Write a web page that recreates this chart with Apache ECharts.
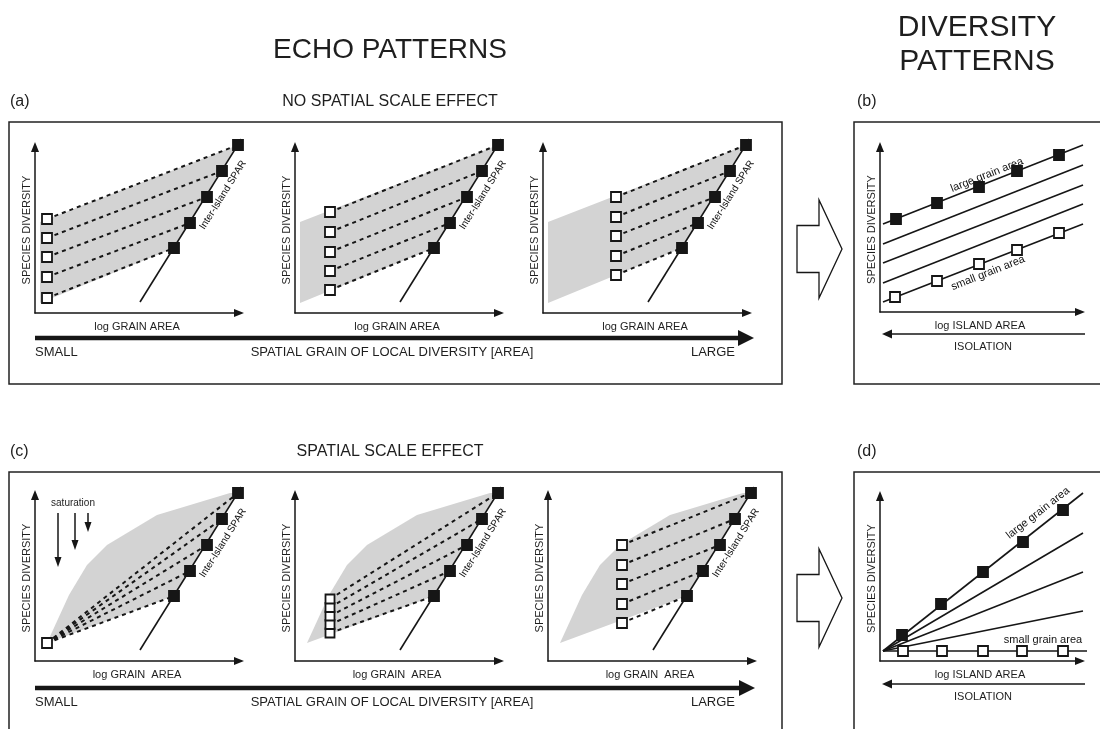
<!DOCTYPE html>
<html><head><meta charset="utf-8">
<script src="https://cdn.jsdelivr.net/npm/echarts@6/dist/echarts.min.js"></script>
<style>html,body{margin:0;padding:0;background:#fff}#c{width:1100px;height:729px}</style>
</head><body><div id="c"></div>
<script>
// ---------------- DATA (axis units) ----------------
// Inter-island SPAR, shared by all echo sub-charts
const sparX = [139, 155, 172, 187, 203];
const sparY = [65, 90, 116, 142, 168];
const sparLineX = [105, 209];
const sparLineY = [11, 178];

// (a) NO SPATIAL SCALE EFFECT – local (small-grain) points per sub-chart
const a1OpenX = [12, 12, 12, 12, 12];
const a1OpenY = [15, 36, 56, 75, 94];
const a2OpenX = [35, 35, 35, 35, 35];
const a2OpenY = [23, 42, 61, 81, 101];
const a3OpenX = [73, 73, 73, 73, 73];
const a3OpenY = [38, 57, 77, 96, 116];
const aFillX = [5, 139, 203, 5];
const aFillY = [10, 65, 168, 91];

// (c) SPATIAL SCALE EFFECT
const c1OpenX = [12, 12, 12, 12, 12];
const c1OpenY = [18, 18, 18, 18, 18];
const c2OpenX = [35, 35, 35, 35, 35];
const c2OpenY = [28, 36.5, 45, 53.5, 62];
const c3OpenX = [74, 74, 74, 74, 74];
const c3OpenY = [38, 57, 77, 96, 116];
const cFillX = [12, 34, 52, 72, 122, 195, 203, 139];
const cFillY = [18, 66, 96, 116, 146, 168, 168, 65];
const satX = [23, 40, 53];
const satTopY = [148, 148, 148];
const satEndY = [99, 116, 134];

// (b) diversity patterns, no scale effect
const bLineStartX = [3, 3, 3, 3, 3];
const bLineStartY = [88, 68, 49, 29, 10];
const bLineEndX = [203, 203, 203, 203, 203];
const bLineEndY = [167, 147, 127, 108, 88];
const bLargeX = [16, 57, 99, 137, 179];
const bLargeY = [93, 109, 125, 141, 157];
const bSmallX = [15, 57, 99, 137, 179];
const bSmallY = [15, 31, 48, 62, 79];

// (d) diversity patterns, scale effect
const dLineStartX = [3, 3, 3, 3, 3];
const dLineStartY = [10, 10, 10, 10, 10];
const dLineEndX = [203, 203, 203, 203, 207];
const dLineEndY = [168, 128, 89, 50, 10];
const dLargeX = [22, 61, 103, 143, 183];
const dLargeY = [26, 57, 89, 119, 151];
const dSmallX = [23, 62, 103, 142, 183];
const dSmallY = [10, 10, 10, 10, 10];

// ---------------- LAYOUT / STYLE ----------------
const FONT = '"Liberation Sans", Arial, Helvetica, sans-serif';
const INK = '#161616';
const TXT = '#1e1e1e';
const GRAY = '#d3d3d3';

const grids = [
  {left: 35,  top: 147, w: 204, h: 166, xName: 'log GRAIN AREA'},
  {left: 295, top: 147, w: 204, h: 166, xName: 'log GRAIN AREA'},
  {left: 543, top: 147, w: 204, h: 166, xName: 'log GRAIN AREA'},
  {left: 35,  top: 495, w: 204, h: 166, xName: 'log GRAIN  AREA'},
  {left: 295, top: 495, w: 204, h: 166, xName: 'log GRAIN  AREA'},
  {left: 548, top: 495, w: 204, h: 166, xName: 'log GRAIN  AREA'},
  {left: 880, top: 147, w: 200, h: 165, xName: 'log ISLAND AREA'},
  {left: 880, top: 496, w: 200, h: 165, xName: 'log ISLAND AREA'}
];

const axisLine = {show: true, onZero: false, symbol: ['none', 'triangle'], symbolSize: [8, 10],
  lineStyle: {color: INK, width: 1.5}};
const gridOpt = grids.map(g => ({left: g.left, top: g.top, width: g.w, height: g.h}));
const xAxes = grids.map((g, i) => ({gridIndex: i, type: 'value', min: 0, max: g.w,
  axisLine, axisTick: {show: false}, axisLabel: {show: false}, splitLine: {show: false},
  name: g.xName, nameLocation: 'middle', nameGap: 8,
  nameTextStyle: {fontSize: 11, color: TXT, fontFamily: FONT, verticalAlign: 'top'}}));
const yAxes = grids.map((g, i) => ({gridIndex: i, type: 'value', min: 0, max: g.h,
  axisLine, axisTick: {show: false}, axisLabel: {show: false}, splitLine: {show: false},
  name: 'SPECIES DIVERSITY', nameLocation: 'middle', nameGap: 3,
  nameTextStyle: {fontSize: 11, color: TXT, fontFamily: FONT}}));

const series = [];
const base = gi => ({xAxisIndex: gi, yAxisIndex: gi, silent: true, animation: false});

function polygon(gi, xs, ys) {
  series.push(Object.assign(base(gi), {type: 'custom', z: 1, clip: false, data: [[xs[0], ys[0]]],
    renderItem: (p, api) => ({type: 'polygon',
      shape: {points: xs.map((x, i) => api.coord([x, ys[i]]))}, style: {fill: GRAY}})}));
}
function segs(gi, fx, fy, tx, ty, style, z) {
  series.push(Object.assign(base(gi), {type: 'lines', coordinateSystem: 'cartesian2d', z: z, clip: false,
    lineStyle: Object.assign({color: INK, opacity: 1}, style),
    data: tx.map((x, i) => ({coords: [[fx[i], fy[i]], [x, ty[i]]]}))}));
}
function line(gi, xs, ys, extra) {
  series.push(Object.assign(base(gi), {type: 'line', z: 4, clip: false, symbol: 'none',
    lineStyle: {color: INK, width: 1.6}, data: xs.map((x, i) => [x, ys[i]])}, extra || {}));
}
function squares(gi, xs, ys, filled, size) {
  series.push(Object.assign(base(gi), {type: 'scatter', z: 6, clip: false, symbol: 'rect',
    symbolSize: size || 10,
    itemStyle: {color: filled ? INK : '#fff', borderColor: INK, borderWidth: 1.8, opacity: 1},
    data: xs.map((x, i) => [x, ys[i]])}));
}
function label(gi, x, y, text, rot, fs) {
  series.push(Object.assign(base(gi), {type: 'scatter', z: 7, clip: false, symbolSize: 0,
    itemStyle: {color: INK, opacity: 1},
    label: {show: true, position: 'inside', formatter: text, rotate: rot, fontSize: fs || 10,
      color: '#111', opacity: 1, fontFamily: FONT, align: 'center', verticalAlign: 'middle',
      textBorderWidth: 0},
    data: [[x, y]]}));
}
const dashed = {width: 2, type: [4, 4]};

// echo sub-charts
const echo = [
  [0, a1OpenX, a1OpenY, aFillX, aFillY],
  [1, a2OpenX, a2OpenY, aFillX, aFillY],
  [2, a3OpenX, a3OpenY, aFillX, aFillY],
  [3, c1OpenX, c1OpenY, cFillX, cFillY],
  [4, c2OpenX, c2OpenY, cFillX, cFillY],
  [5, c3OpenX, c3OpenY, cFillX, cFillY]
];
echo.forEach(([gi, ox, oy, px, py]) => {
  polygon(gi, px, py);
  segs(gi, ox, oy, sparX, sparY, dashed, 3);
  line(gi, sparLineX, sparLineY, gi === 3 ? {markLine: {silent: true, symbol: ['none', 'triangle'],
    symbolSize: [7, 10], label: {show: false}, emphasis: {disabled: true},
    lineStyle: {color: INK, width: 1.5, type: 'solid'},
    data: satX.map((x, i) => [{coord: [x, satTopY[i]]}, {coord: [x, satEndY[i]]}])}} : null);
  squares(gi, sparX, sparY, true);
  squares(gi, gi === 3 ? [ox[0]] : ox, gi === 3 ? [oy[0]] : oy, false, gi === 4 ? 9 : 10);
  label(gi, 188, 118, 'Inter-Island SPAR', 58, 10);
});

// (b)
segs(6, bLineStartX, bLineStartY, bLineEndX, bLineEndY, {width: 1.6}, 3);
squares(6, bLargeX, bLargeY, true);
squares(6, bSmallX, bSmallY, false);
label(6, 107, 137, 'large grain area', 21.5, 11);
label(6, 108, 39, 'small grain area', 21.5, 11);

// (d)
segs(7, dLineStartX, dLineStartY, dLineEndX, dLineEndY, {width: 1.6}, 3);
squares(7, dLargeX, dLargeY, true);
squares(7, dSmallX, dSmallY, false);
label(7, 158, 148, 'large grain area', 38, 11);
label(7, 163, 21, 'small grain area', 0, 11);

// ---------------- DECORATION ----------------
function txt(x, y, text, size, align) {
  return {type: 'text', x: x, y: y, silent: true, style: {text: text, fill: TXT,
    font: size + 'px ' + FONT, align: align || 'center', verticalAlign: 'middle'}};
}
function frame(x, y, w, h) {
  return {type: 'rect', silent: true, shape: {x: x, y: y, width: w, height: h},
    style: {fill: 'none', stroke: '#222', lineWidth: 1.5}};
}
function thickArrow(x1, x2, y) {
  return [
    {type: 'line', silent: true, shape: {x1: x1, y1: y, x2: x2 - 14, y2: y}, style: {stroke: INK, lineWidth: 4.5}},
    {type: 'polygon', silent: true, shape: {points: [[x2 - 16, y - 8], [x2, y], [x2 - 16, y + 8]]}, style: {fill: INK}}
  ];
}
function leftArrow(x1, x2, y) {
  return [
    {type: 'line', silent: true, shape: {x1: x1 + 8, y1: y, x2: x2, y2: y}, style: {stroke: INK, lineWidth: 1.5}},
    {type: 'polygon', silent: true, shape: {points: [[x1, y], [x1 + 10, y - 4.5], [x1 + 10, y + 4.5]]}, style: {fill: INK}}
  ];
}
function hollowArrow(yc) {
  return {type: 'polygon', silent: true, shape: {points: [[797, yc - 23.5], [819, yc - 23.5], [819, yc - 49],
    [842, yc], [819, yc + 49], [819, yc + 23.5], [797, yc + 23.5]]},
    style: {fill: '#fff', stroke: INK, lineWidth: 1.3}};
}

const graphic = [
  frame(9, 122, 773, 262), frame(854, 122, 260, 262),
  frame(9, 472, 773, 300), frame(854, 472, 260, 300),
  txt(390, 50, 'ECHO PATTERNS', 28),
  txt(977, 28, 'DIVERSITY', 30), txt(977, 62, 'PATTERNS', 30),
  txt(10, 102, '(a)', 16, 'left'), txt(390, 102, 'NO SPATIAL SCALE EFFECT', 16),
  txt(857, 102, '(b)', 16, 'left'),
  txt(10, 452, '(c)', 16, 'left'), txt(390, 452, 'SPATIAL SCALE EFFECT', 16),
  txt(857, 452, '(d)', 16, 'left'),
  txt(35, 352, 'SMALL', 13, 'left'), txt(392, 352, 'SPATIAL GRAIN OF LOCAL DIVERSITY [AREA]', 13),
  txt(713, 352, 'LARGE', 13),
  txt(35, 702, 'SMALL', 13, 'left'), txt(392, 702, 'SPATIAL GRAIN OF LOCAL DIVERSITY [AREA]', 13),
  txt(713, 702, 'LARGE', 13),
  txt(73, 503, 'saturation', 10),
  txt(983, 347, 'ISOLATION', 11), txt(983, 697, 'ISOLATION', 11),
  hollowArrow(249), hollowArrow(598)
].concat(thickArrow(35, 754, 338), thickArrow(35, 755, 688),
  leftArrow(882, 1085, 334), leftArrow(882, 1085, 684));

const chart = echarts.init(document.getElementById('c'), null, {renderer: 'canvas'});
chart.setOption({
  animation: false,
  backgroundColor: '#fff',
  textStyle: {fontFamily: FONT},
  grid: gridOpt, xAxis: xAxes, yAxis: yAxes,
  series: series, graphic: graphic
});
</script>
</body></html>
